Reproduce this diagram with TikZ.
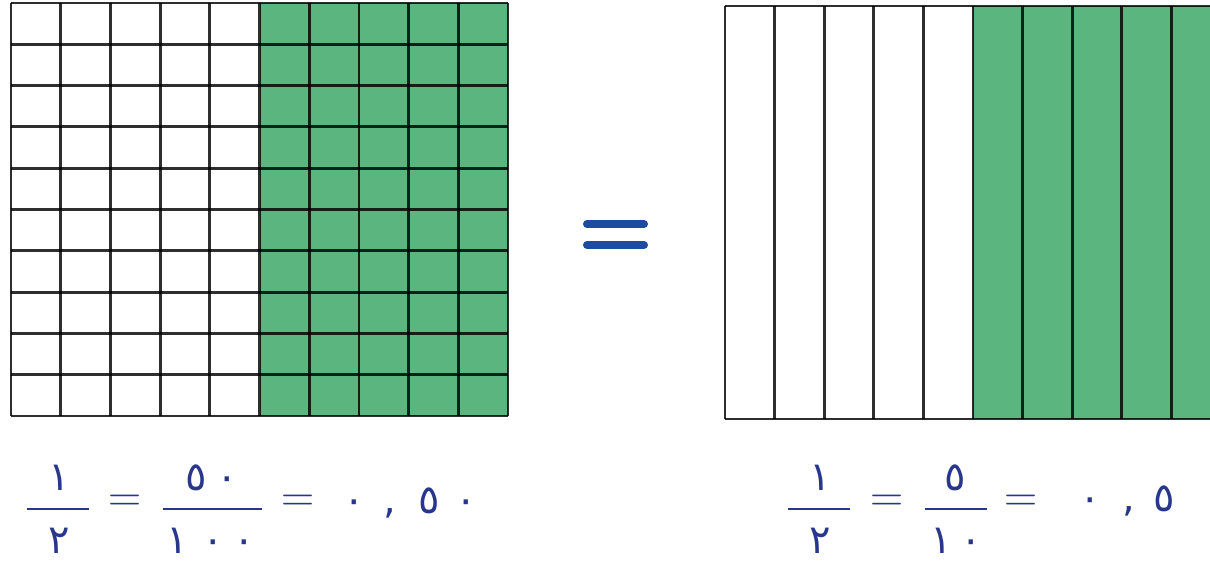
\documentclass[tikz,border=0pt]{standalone}
\usepackage{fontspec}
\newfontfamily\arabicfont{DejaVu Sans}
\definecolor{grn}{RGB}{90,181,126}
\definecolor{navy}{RGB}{40,55,140}
\definecolor{bigblue}{RGB}{30,75,160}
\tikzset{
  gl/.style={line width=2.8pt, draw=black, draw opacity=0.82},
  num/.style={font=\arabicfont\fontsize{40}{40}\selectfont, text=navy, inner sep=0pt, anchor=base},
  eqs/.style={font=\fontsize{46}{46}\selectfont, text=navy, inner sep=0pt},
  fbar/.style={draw=navy, line width=2.6pt},
  bigeq/.style={draw=bigblue, line width=8pt, line cap=round}
}
\begin{document}
\begin{tikzpicture}[x=1pt,y=-1pt]
\useasboundingbox (0,0) rectangle (1210,567);
\clip (0,0) rectangle (1210,567);
\fill[white] (0,0) rectangle (1210,567);
% left 10x10 grid
\fill[grn] (259.5,3) rectangle (508,416);
\foreach \i in {0,...,10} \draw[gl] ({11+\i*49.7},3) -- ({11+\i*49.7},416);
\foreach \j in {0,...,10} \draw[gl] (11,{3+\j*41.3}) -- (508,{3+\j*41.3});
% right 10 strips
\fill[grn] (973,6) rectangle (1222,419);
\foreach \i in {0,...,10} \draw[gl] ({725+\i*49.6},6) -- ({725+\i*49.6},419);
\draw[gl] (725,6) -- (1222,6);
\draw[gl] (725,419) -- (1222,419);
% big equals sign
\draw[bigeq] (587,224) -- (644,224);
\draw[bigeq] (587,245) -- (644,245);
% left formula
\node[num] (ln1) at (59,490) {١};
\node[num] (ld1) at (59,553) {٢};
\draw[fbar] (27,509) -- (89,509);
\node[eqs] (le1) at (125,503) {=};
\node[num] (ln2) at (212,490) {٥\hspace{10pt}٠};
\node[num] (ld2) at (211,553) {١\hspace{14pt}٠\hspace{10pt}٠};
\draw[fbar] (163,509) -- (262,509);
\node[eqs] (le2) at (298,503) {=};
\node[num] (ldec) at (410,513) {٠\hspace{19pt},\hspace{22pt}٥\hspace{15pt}٠};
% right formula
\node[num] (rn1) at (820,490) {١};
\node[num] (rd1) at (820,553) {٢};
\draw[fbar] (788,509) -- (850,509);
\node[eqs] (re1) at (887,503) {=};
\node[num] (rn2) at (955,490) {٥};
\node[num] (rd2) at (956,553) {١\hspace{8pt}٠};
\draw[fbar] (925,509) -- (987,509);
\node[eqs] (re2) at (1021,503) {=};
\node[num] (rdec) at (1127,511) {٠\hspace{22pt},\hspace{18pt}٥};
\end{tikzpicture}
\end{document}
